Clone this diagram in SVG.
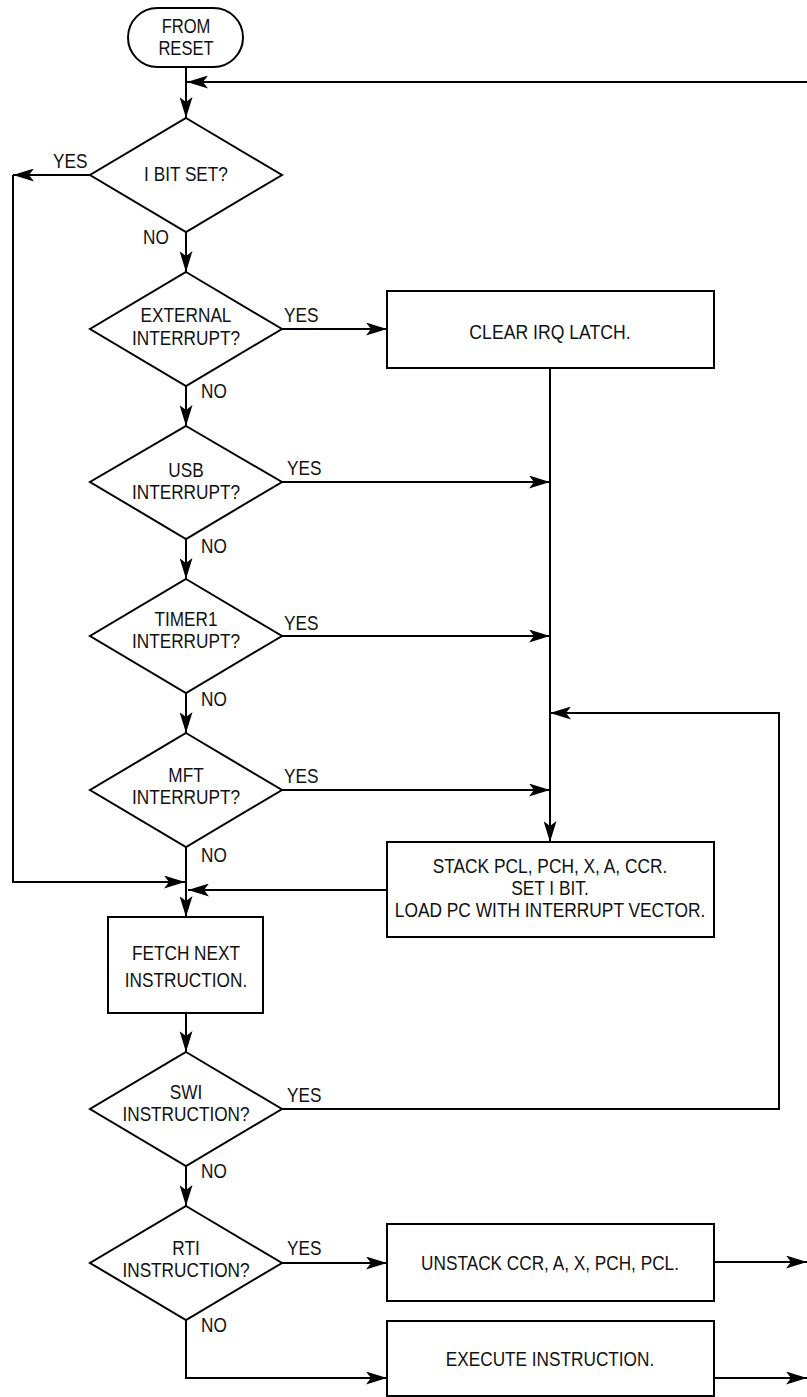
<svg xmlns="http://www.w3.org/2000/svg" width="807" height="1397" viewBox="0 0 807 1397">
<defs>
<marker id="ah" markerUnits="userSpaceOnUse" markerWidth="22" markerHeight="13" refX="21" refY="6.5" orient="auto">
<path d="M0,0 L21,6.5 L0,13 L5,6.5 Z" fill="#000"/>
</marker>
<style>
.b{fill:#fff;stroke:#000;stroke-width:2}
.c{stroke:#000;stroke-width:2;fill:none}
.a{marker-end:url(#ah)}
text{font-family:"Liberation Sans",Arial,sans-serif;font-size:21px;fill:#111}
.m{text-anchor:middle}
.sm{font-size:19.5px}
</style>
</defs>
<rect width="807" height="1397" fill="#fff"/>
<g id="connectors">
<path class="c a" d="M186,67 V118"/>
<path class="c a" d="M807,82 H187"/>
<path class="c a" d="M90,175 H13"/>
<path class="c a" d="M13,175 V882 H185"/>
<path class="c a" d="M186,232 V272"/>
<path class="c a" d="M282,329 H387"/>
<path class="c a" d="M550,368 V842"/>
<path class="c a" d="M186,386 V426"/>
<path class="c a" d="M282,482 H550"/>
<path class="c a" d="M186,539 V579"/>
<path class="c a" d="M282,636 H550"/>
<path class="c a" d="M186,693 V733"/>
<path class="c a" d="M282,790 H550"/>
<path class="c a" d="M186,847 V917"/>
<path class="c a" d="M387,890 H188"/>
<path class="c a" d="M186,1013 V1052"/>
<path class="c a" d="M282,1109 H779 V713 H550"/>
<path class="c a" d="M186,1166 V1206"/>
<path class="c a" d="M282,1263 H387"/>
<path class="c a" d="M186,1320 V1378 H387"/>
<path class="c a" d="M714,1262 H807"/>
<path class="c a" d="M714,1378 H807"/>
<g>
<text transform="translate(53 0) scale(0.82 1)" y="168">YES</text>
<text transform="translate(143 0) scale(0.82 1)" y="244">NO</text>
<text transform="translate(284 0) scale(0.82 1)" y="322">YES</text>
<text transform="translate(201 0) scale(0.82 1)" y="398">NO</text>
<text transform="translate(287 0) scale(0.82 1)" y="475">YES</text>
<text transform="translate(201 0) scale(0.82 1)" y="553">NO</text>
<text transform="translate(284 0) scale(0.82 1)" y="630">YES</text>
<text transform="translate(201 0) scale(0.82 1)" y="706">NO</text>
<text transform="translate(284 0) scale(0.82 1)" y="783">YES</text>
<text transform="translate(201 0) scale(0.82 1)" y="862">NO</text>
<text transform="translate(287 0) scale(0.82 1)" y="1102">YES</text>
<text transform="translate(201 0) scale(0.82 1)" y="1178">NO</text>
<text transform="translate(287 0) scale(0.82 1)" y="1255">YES</text>
<text transform="translate(201 0) scale(0.82 1)" y="1332">NO</text>
</g>
</g>
<g id="start">
<rect class="b" x="128" y="8" width="115" height="59" rx="29.5"/>
<text class="m sm" transform="translate(186 0) scale(0.85 1)" y="33">FROM</text>
<text class="m sm" transform="translate(186 0) scale(0.85 1)" y="55">RESET</text>
</g>
<g id="d-ibit">
<path class="b" d="M186,118 L282,175 L186,232 L90,175 Z"/>
<text class="m" transform="translate(186 0) scale(0.82 1)" y="181">I BIT SET?</text>
</g>
<g id="d-ext">
<path class="b" d="M186,272 L282,329 L186,386 L90,329 Z"/>
<text class="m" transform="translate(186 0) scale(0.82 1)" y="322">EXTERNAL</text>
<text class="m" transform="translate(186 0) scale(0.82 1)" y="345">INTERRUPT?</text>
</g>
<g id="d-usb">
<path class="b" d="M186,426 L282,482 L186,539 L90,482 Z"/>
<text class="m" transform="translate(186 0) scale(0.82 1)" y="477">USB</text>
<text class="m" transform="translate(186 0) scale(0.82 1)" y="499">INTERRUPT?</text>
</g>
<g id="d-timer1">
<path class="b" d="M186,579 L282,636 L186,693 L90,636 Z"/>
<text class="m" transform="translate(186 0) scale(0.82 1)" y="626">TIMER1</text>
<text class="m" transform="translate(186 0) scale(0.82 1)" y="648">INTERRUPT?</text>
</g>
<g id="d-mft">
<path class="b" d="M186,733 L282,790 L186,847 L90,790 Z"/>
<text class="m" transform="translate(186 0) scale(0.82 1)" y="782">MFT</text>
<text class="m" transform="translate(186 0) scale(0.82 1)" y="804">INTERRUPT?</text>
</g>
<g id="clear-irq">
<rect class="b" x="387" y="291" width="327" height="77"/>
<text class="m" transform="translate(550 0) scale(0.84 1)" y="339">CLEAR IRQ LATCH.</text>
</g>
<g id="stack">
<rect class="b" x="387" y="842" width="327" height="95"/>
<text class="m sm" transform="translate(550 0) scale(0.89 1)" y="873">STACK PCL, PCH, X, A, CCR.</text>
<text class="m sm" transform="translate(550 0) scale(0.89 1)" y="895">SET I BIT.</text>
<text class="m sm" transform="translate(550 0) scale(0.89 1)" y="917">LOAD PC WITH INTERRUPT VECTOR.</text>
</g>
<g id="fetch">
<rect class="b" x="108" y="917" width="155" height="96"/>
<text class="m" transform="translate(186 0) scale(0.82 1)" y="960">FETCH NEXT</text>
<text class="m" transform="translate(186 0) scale(0.82 1)" y="987">INSTRUCTION.</text>
</g>
<g id="d-swi">
<path class="b" d="M186,1052 L282,1109 L186,1166 L90,1109 Z"/>
<text class="m" transform="translate(186 0) scale(0.82 1)" y="1099">SWI</text>
<text class="m" transform="translate(186 0) scale(0.82 1)" y="1121">INSTRUCTION?</text>
</g>
<g id="d-rti">
<path class="b" d="M186,1206 L282,1263 L186,1320 L90,1263 Z"/>
<text class="m" transform="translate(186 0) scale(0.82 1)" y="1255">RTI</text>
<text class="m" transform="translate(186 0) scale(0.82 1)" y="1277">INSTRUCTION?</text>
</g>
<g id="unstack">
<rect class="b" x="387" y="1224" width="327" height="77"/>
<text class="m" transform="translate(550 0) scale(0.82 1)" y="1270">UNSTACK CCR, A, X, PCH, PCL.</text>
</g>
<g id="execute">
<rect class="b" x="387" y="1321" width="327" height="75"/>
<text class="m" transform="translate(550 0) scale(0.82 1)" y="1366">EXECUTE INSTRUCTION.</text>
</g>
</svg>
